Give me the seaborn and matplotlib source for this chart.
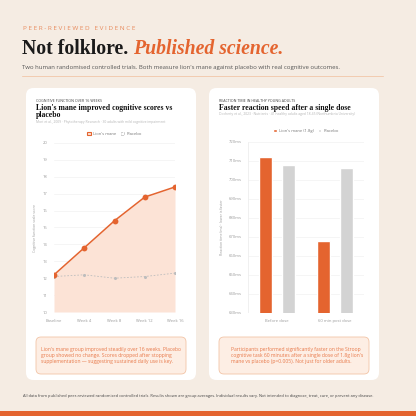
import numpy as np
import pandas as pd
import seaborn as sns
import matplotlib.pyplot as plt
from matplotlib.patches import FancyBboxPatch, Patch, Rectangle

# veriler
weeks = ["Baseline", "Week 4", "Week 8", "Week 12", "Week 16"]
lions_mane_scores = [12.2, 13.8, 15.4, 16.8, 17.4]
placebo_scores = [12.1, 12.2, 12.0, 12.1, 12.3]

timepoints = ["Before dose", "60 min post dose"]
lions_mane_ms = [712, 668]
placebo_ms = [708, 706]

left_yticks = list(range(10, 21))
right_yticks = list(range(630, 721, 10))

ORANGE = "#e4642f"
LIGHT = "#fce3d6"
BG = "#f5ece3"
GREY_TXT = "#9a9a9a"

sns.set_theme(style="white")
plt.rcParams['font.family'] = ['Open Sans', 'DejaVu Sans']

W = 416.0
fig = plt.figure(figsize=(4.16, 4.16), dpi=100)
fig.patch.set_facecolor(BG)

def fx(x):
    return x / W

def fy(y):
    return 1 - y / W

# header
fig.text(fx(23), fy(28), " ".join("PEER-REVIEWED") + "   " + " ".join("EVIDENCE"),
         color="#e88a5c", fontsize=4.6, va="center", ha="left")
t1 = fig.text(fx(22), fy(49), "Not folklore. ", family="Liberation Serif", weight="bold",
              fontsize=14.2, color="#1a1a1a", va="center", ha="left")
r = fig.canvas.get_renderer()
bb = t1.get_window_extent(renderer=r)
fig.text(fx(22) + bb.width / W, fy(49), "Published science.", family="Liberation Serif",
         weight="bold", style="italic", fontsize=14.2, color=ORANGE, va="center", ha="left")
fig.text(fx(22), fy(67), "Two human randomised controlled trials. Both measure lion's mane against placebo with real cognitive outcomes.",
         fontsize=4.35, color="#555555", va="center", ha="left")
fig.add_artist(plt.Line2D([fx(22), fx(383)], [fy(76), fy(76)], color="#f2cbb0", lw=0.7))

# kartlar (eksenlerin arkasında kalsın)
for x0 in [26, 209]:
    fig.add_artist(FancyBboxPatch((fx(x0), fy(380)), fx(170), 292 / W,
                                  boxstyle="round,pad=0,rounding_size=0.018",
                                  facecolor="white", edgecolor="none", zorder=-5))

# kart başlıkları
fig.text(fx(36), fy(101), "COGNITIVE FUNCTION OVER 16 WEEKS", fontsize=2.6, color="#444", va="center")
fig.text(fx(36), fy(111.5), "Lion's mane improved cognitive scores vs\nplacebo", family="Liberation Serif",
         weight="bold", fontsize=5.6, color="#111", va="center", linespacing=0.9)
fig.text(fx(36), fy(122), "Mori et al., 2009 · Phytotherapy Research · 30 adults with mild cognitive impairment",
         fontsize=2.4, color="#b5b5b5", va="center")

fig.text(fx(219), fy(101), "REACTION TIME IN HEALTHY YOUNG ADULTS", fontsize=2.6, color="#444", va="center")
fig.text(fx(219), fy(107.5), "Faster reaction speed after a single dose", family="Liberation Serif",
         weight="bold", fontsize=5.6, color="#111", va="center")
fig.text(fx(219), fy(114.5), "Docherty et al., 2023 · Nutrients · 41 healthy adults aged 18-45 (Northumbria University)",
         fontsize=2.4, color="#b5b5b5", va="center")

# sol grafik
df_left = pd.DataFrame({"week": weeks * 2,
                        "score": lions_mane_scores + placebo_scores,
                        "group": ["Lion's mane"] * 5 + ["Placebo"] * 5})
ax1 = fig.add_axes([fx(54), fy(312), fx(121), 169 / W])
ax1.set_facecolor("white")
ax1.fill_between(range(len(weeks)), lions_mane_scores, 10, color=LIGHT, lw=0)
sns.lineplot(data=df_left[df_left.group == "Placebo"], x="week", y="score", ax=ax1,
             color="#bdbdbd", lw=0.6, linestyle=(0, (2, 2)), marker="o", markersize=2.2,
             markeredgewidth=0, sort=False)
sns.lineplot(data=df_left[df_left.group == "Lion's mane"], x="week", y="score", ax=ax1,
             color=ORANGE, lw=1.1, marker="o", markersize=4.2, markeredgewidth=0, sort=False)
ax1.set_xlim(0, 4)
ax1.set_ylim(10, 20)
ax1.set_yticks(left_yticks)
ax1.grid(axis="y", color="#f1f1f1", lw=0.5)
ax1.tick_params(labelsize=3, colors=GREY_TXT, length=0, pad=5)
ax1.set_xlabel("")
ax1.set_ylabel("Cognitive function scale score", fontsize=2.5, color=GREY_TXT, labelpad=4)
for s in ax1.spines.values():
    s.set_visible(False)
ax1.legend(handles=[Patch(facecolor=LIGHT, edgecolor=ORANGE, lw=0.8, label="Lion's mane"),
                    Patch(facecolor="none", edgecolor="#bbbbbb", lw=0.5, linestyle="--", label="Placebo")],
           loc="lower center", bbox_to_anchor=(0.5, 1.02), ncol=2, frameon=False,
           fontsize=3, handlelength=0.9, handleheight=0.9, columnspacing=1, handletextpad=0.5,
           labelcolor="#777777")

# sağ grafik
df_right = pd.DataFrame({"time": timepoints * 2,
                         "ms": lions_mane_ms + placebo_ms,
                         "group": ["Lion's mane (1.8g)"] * 2 + ["Placebo"] * 2})
ax2 = fig.add_axes([fx(247.7), fy(313), fx(116.3), 171.3 / W])
ax2.set_facecolor("white")
sns.barplot(data=df_right, x="time", y="ms", hue="group", ax=ax2,
            palette=[ORANGE, "#d3d3d3"], width=0.8, gap=0.45, saturation=1, legend=False)
ax2.set_xlim(-0.5, 1.5)
ax2.set_ylim(630, 720)
ax2.set_yticks(right_yticks)
ax2.set_yticklabels([f"{v}ms" for v in right_yticks])
ax2.grid(axis="y", color="#f1f1f1", lw=0.5)
ax2.set_axisbelow(True)
ax2.tick_params(labelsize=3, colors=GREY_TXT, length=0, pad=4)
ax2.set_xlabel("")
ax2.set_ylabel("Reaction time (ms) · lower is faster", fontsize=2.5, color=GREY_TXT, labelpad=4)
for s in ax2.spines.values():
    s.set_visible(False)
ax2.axvline(-0.5, color="#eeeeee", lw=0.6)
ax2.legend(handles=[Patch(facecolor=ORANGE, label="Lion's mane (1.8g)"),
                    Patch(facecolor="#d3d3d3", label="Placebo")],
           loc="lower center", bbox_to_anchor=(0.5, 1.03), ncol=2, frameon=False,
           fontsize=3, handlelength=0.9, handleheight=0.9, columnspacing=1, handletextpad=0.5,
           labelcolor="#777777")

# not kutuları
notes = [(36, "Lion's mane group improved steadily over 16 weeks. Placebo\ngroup showed no change. Scores dropped after stopping\nsupplementation — suggesting sustained daily use is key.", 41),
         (219, "Participants performed significantly faster on the Stroop\ncognitive task 60 minutes after a single dose of 1.8g lion's\nmane vs placebo (p=0.005). Not just for older adults.", 231)]
for x0, txt, tx in notes:
    fig.add_artist(FancyBboxPatch((fx(x0), fy(374)), fx(150), 37 / W,
                                  boxstyle="round,pad=0,rounding_size=0.012",
                                  facecolor="#fdeee4", edgecolor="#f2c4a6", lw=0.6))
    fig.text(fx(tx), fy(355.5), txt, fontsize=3.6, color="#e8794a", va="center", ha="left",
             linespacing=1.25)

# alt bilgi
fig.text(fx(23), fy(396), "All data from published peer-reviewed randomised controlled trials. Results shown are group averages. Individual results vary. Not intended to diagnose, treat, cure, or prevent any disease.",
         fontsize=2.9, color="#444444", va="center", ha="left")
fig.add_artist(Rectangle((0, 0), 1, 5 / W, facecolor=ORANGE, edgecolor="none"))

plt.savefig("out.png", dpi=100, facecolor=BG)
